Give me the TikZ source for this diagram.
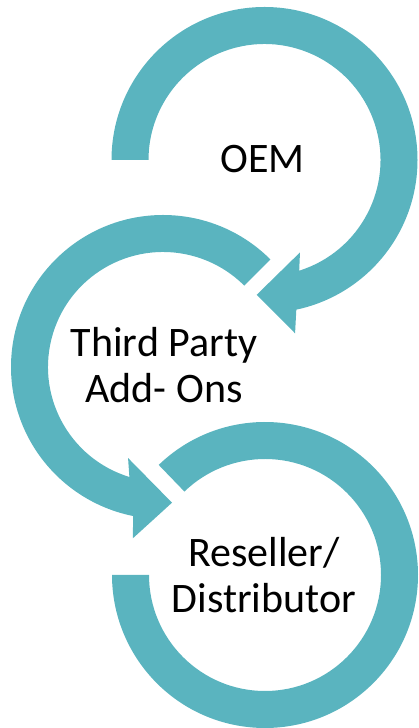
\documentclass[tikz,border=0pt]{standalone}
\usepackage{fontspec}
\setmainfont{Carlito}
\definecolor{arrowteal}{HTML}{5AB4BF}
\begin{document}
\begin{tikzpicture}[x=1pt,y=1pt,
  band/.style={fill=arrowteal,draw=none},
  txt/.style={font=\fontsize{42}{46}\selectfont,align=center,inner sep=0pt,anchor=base}]
\useasboundingbox (0,0) rectangle (418,728);
% centres of the three circular arrows
\coordinate (c1) at (264.5,568);
\coordinate (c2) at (163,361);
\coordinate (c3) at (265,153);
% first arrow: clockwise from the left, head pointing down-left
\fill[band] ([shift={(180:153)}]c1) arc[start angle=180,end angle=-78,radius=153]
  -- ([shift={(-80:176)}]c1) -- ([shift={(-93.3:135)}]c1)
  -- ([shift={(-69:99)}]c1) -- ([shift={(-72.6:116)}]c1)
  arc[start angle=-72.6,end angle=180,radius=116] -- cycle;
% second arrow: counter-clockwise from upper right, head pointing down-right
\fill[band] ([shift={(45:152)}]c2) arc[start angle=45,end angle=258.7,radius=152]
  -- ([shift={(260:174)}]c2) -- ([shift={(273.8:136)}]c2)
  -- ([shift={(249:97.5)}]c2) -- ([shift={(253:115)}]c2)
  arc[start angle=253,end angle=45,radius=115] -- cycle;
% third band: clockwise from upper left, ending flat at the left
\fill[band] ([shift={(134:153)}]c3) arc[start angle=134,end angle=-180,radius=153]
  -- ([shift={(180:116)}]c3) arc[start angle=-180,end angle=134,radius=116] -- cycle;
% labels (base anchor sits on the last line)
\node[txt] (oem) at (262.5,555) {OEM};
\node[txt] (third) at (164,325) {Third Party\\Add- Ons};
\node[txt] (resel) at (264,115) {Reseller/\\Distributor};
\end{tikzpicture}
\end{document}
